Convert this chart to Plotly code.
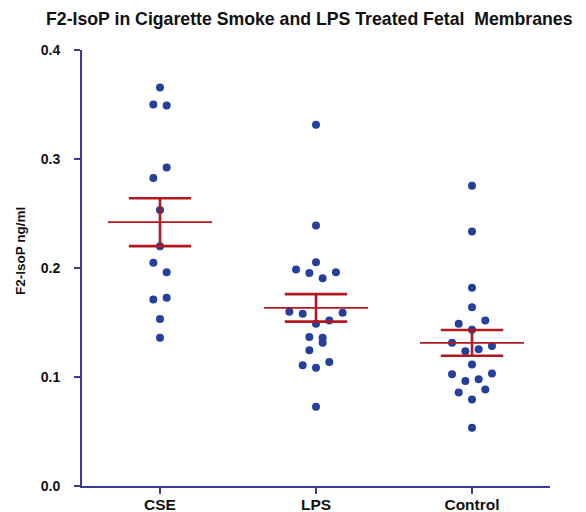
import numpy as np
import plotly.graph_objects as go

# ---- data ----
categories = ["CSE", "LPS", "Control"]
cse_values = [0.3655, 0.350, 0.349, 0.2825, 0.2923, 0.2532, 0.2200, 0.2048,
              0.1962, 0.1712, 0.1727, 0.1532, 0.1361]
lps_values = [0.3314, 0.2389, 0.2053, 0.1986, 0.1953, 0.1907, 0.1962, 0.1599,
              0.1581, 0.1489, 0.1519, 0.1590, 0.1367, 0.1361, 0.1245, 0.1315,
              0.1108, 0.1086, 0.1138, 0.0726]
control_values = [0.2755, 0.2334, 0.1819, 0.1641, 0.1489, 0.1434, 0.1519,
                  0.1315, 0.1236, 0.1254, 0.1284, 0.1114, 0.1025, 0.0964,
                  0.0979, 0.1032, 0.0858, 0.0794, 0.0885, 0.0534]
y_ticks = [0.0, 0.1, 0.2, 0.3, 0.4]
title_text = "F2-IsoP in Cigarette Smoke and LPS Treated Fetal\u00a0 Membranes"
y_title = "F2-IsoP ng/ml"

groups = [cse_values, lps_values, control_values]

# ---- styling ----
FONT = "Liberation Sans, Arial, sans-serif"
AXIS_COLOR = "#3b3a94"
DOT_COLOR = "#24409b"
RED = "#b01a1f"
STEP = 0.0853      # horizontal spacing between dots in a row (category units)
ROW_TOL = 0.0112   # values closer than this share a row
MEAN_HALF = 1 / 3
CAP_HALF = 0.2
PAGE_PAD = 8       # default body margin of the html page


def row_offsets(values, tol, step):
    n = len(values)
    order = sorted(range(n), key=lambda i: values[i])
    rows, cur = [], []
    for i in order:
        if cur and values[i] - values[cur[0]] <= tol:
            cur.append(i)
        else:
            if cur:
                rows.append(cur)
            cur = [i]
    if cur:
        rows.append(cur)
    offs = [0.0] * n
    for row in rows:
        row = sorted(row)
        k = len(row)
        for j, i in enumerate(row):
            offs[i] = (j - (k - 1) / 2) * step
    return offs


fig = go.Figure()

for gi, vals in enumerate(groups):
    offs = row_offsets(vals, ROW_TOL, STEP)
    fig.add_trace(go.Scatter(
        x=[gi + o for o in offs], y=vals, mode="markers",
        marker=dict(color=DOT_COLOR, size=8, line=dict(width=0)),
        showlegend=False, hoverinfo="y"))

for gi, vals in enumerate(groups):
    arr = np.array(vals)
    m = arr.mean()
    sem = arr.std(ddof=1) / np.sqrt(len(arr))
    fig.add_trace(go.Scatter(x=[gi - MEAN_HALF, gi + MEAN_HALF], y=[m, m],
                             mode="lines", line=dict(color=RED, width=1.6),
                             showlegend=False, hoverinfo="skip"))
    for yv in (m - sem, m + sem):
        fig.add_trace(go.Scatter(x=[gi - CAP_HALF, gi + CAP_HALF], y=[yv, yv],
                                 mode="lines", line=dict(color=RED, width=2.6),
                                 showlegend=False, hoverinfo="skip"))
    fig.add_trace(go.Scatter(x=[gi, gi], y=[m - sem, m + sem],
                             mode="lines", line=dict(color=RED, width=2.6),
                             showlegend=False, hoverinfo="skip"))

W, H = 586 - PAGE_PAD, 512 - PAGE_PAD
fig.update_layout(
    width=W, height=H,
    margin=dict(l=82 - PAGE_PAD, r=36, t=50 - PAGE_PAD, b=26),
    paper_bgcolor="white", plot_bgcolor="white",
    font=dict(family=FONT, color="#111111"),
    title=dict(text="<b>" + title_text + "</b>", xref="container", yref="container",
               x=(46 - PAGE_PAD) / W, xanchor="left",
               y=1 - (19 - PAGE_PAD) / H, yanchor="middle",
               font=dict(size=17.7, family=FONT, color="#111111")),
    xaxis=dict(range=[-0.5, 2.5], tickmode="array", tickvals=[0, 1, 2],
               ticktext=["<b>" + c + "</b>" for c in categories],
               showline=True, linecolor=AXIS_COLOR, linewidth=2,
               ticks="outside", ticklen=6, tickwidth=2, tickcolor=AXIS_COLOR,
               showgrid=False, zeroline=False, automargin=False,
               ticklabelstandoff=-3,
               tickfont=dict(size=15.5, family=FONT, color="#111111")),
    yaxis=dict(range=[0, 0.4], tickmode="array", tickvals=y_ticks,
               ticktext=["<b>%.1f</b>" % t for t in y_ticks],
               showline=True, linecolor=AXIS_COLOR, linewidth=2,
               ticks="outside", ticklen=6, tickwidth=2, tickcolor=AXIS_COLOR,
               showgrid=False, zeroline=False, automargin=False,
               ticklabelstandoff=11,
               tickfont=dict(size=14, family=FONT, color="#111111")),
    annotations=[dict(text="<b>" + y_title + "</b>", textangle=-90,
                      xref="paper", yref="paper", x=(21 - 82) / 468, y=0.539,
                      xanchor="center", yanchor="middle", showarrow=False,
                      font=dict(size=13.5, family=FONT, color="#111111"))],
)

fig.write_html("out.html")
